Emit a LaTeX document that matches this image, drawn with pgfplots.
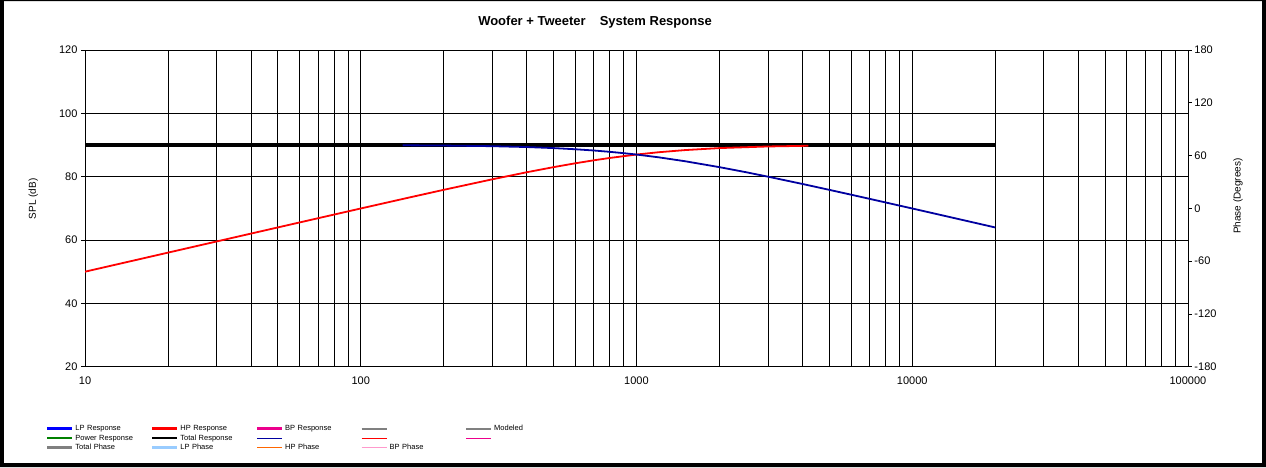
\documentclass[border=0pt]{standalone}
\usepackage{pgfplots}
\pgfplotsset{compat=1.18}
\usepackage{fontspec}
\setmainfont{Liberation Sans}
\definecolor{lpdark}{RGB}{0,0,160}
\definecolor{lpblue}{RGB}{0,0,255}
\definecolor{grayline}{RGB}{128,128,128}
\definecolor{lightblue}{RGB}{153,204,255}
\definecolor{orangeline}{RGB}{255,102,0}
\definecolor{pinkline}{RGB}{255,153,204}
\definecolor{greenline}{RGB}{0,128,0}
\begin{document}
\begin{tikzpicture}
\path[use as bounding box] (-85pt,-100.3pt) rectangle (1181pt,366.7pt);
\fill[black,even odd rule] (-85pt,-100.3pt) rectangle (1181pt,366.7pt)
      (-81pt,-96.3pt) rectangle (1177pt,365.5pt);
\begin{axis}[
  at={(0pt,0pt)}, anchor=south west,
  scale only axis, width=1103pt, height=316.7pt,
  xmode=log, xmin=10, xmax=100000,
  ymin=20, ymax=120, ytick={20,40,...,120},
  xtick={10,100,1000,10000,100000},
  xticklabels={10,100,1000,10000,100000},
  xmajorgrids, xminorgrids, ymajorgrids,
  major grid style={black, line width=0.8pt},
  minor grid style={black, line width=0.8pt},
  axis line style={black, line width=0.8pt},
  axis y line*=left, axis x line*=bottom,
  tick align=outside, major tick length=4pt, minor tick length=0pt,
  xtick style={draw=none},
  ytick style={black, line width=0.8pt},
  tick label style={font=\fontsize{11}{13}\selectfont},
  /pgf/number format/assume math mode=true,
  xticklabel style={yshift=-3pt},
  ylabel={SPL (dB)},
  every axis y label/.style={at={(axis description cs:-0.047,0.53)},rotate=90,anchor=center,font=\fontsize{10}{12}\selectfont},
  title={\textbf{Woofer + Tweeter\hspace{14pt}System Response}},
  title style={at={(axis description cs:0.4624,1.069)},anchor=center,font=\fontsize{13}{15}\selectfont},
  legend columns=5,
  legend style={draw=none, fill=none, at={(axis description cs:-0.0355,-0.179)}, anchor=north west,
    font=\fontsize{7.5}{8.5}\selectfont, row sep=-0.5pt, inner sep=0pt,
    nodes={text width=73.5pt, align=left, inner xsep=2pt, inner ysep=1pt, text height=6pt, text depth=2pt}},
  legend image code/.code={\draw[#1,mark repeat=2,mark phase=2] plot coordinates {(0pt,0pt) (12.5pt,0pt) (25pt,0pt)};},
]
% Total response
\addplot[black, line width=3.2pt, forget plot] coordinates {(10,90) (20000,90)};
% HP response
\addplot[red, line width=1.8pt, forget plot] coordinates {
(10,50.00) (15,53.52) (20,56.02) (30,59.54) (50,63.97) (70,66.88) (100,69.96)
(150,73.43) (200,75.85) (300,79.17) (400,81.40) (500,83.01) (600,84.23)
(700,85.17) (800,85.91) (1000,86.99) (1200,87.71) (1500,88.40) (2000,89.03)
(3000,89.54) (4200,89.76)};
% LP response
\addplot[lpdark, line width=1.8pt, forget plot] coordinates {
(142,89.91) (200,89.83) (300,89.63) (400,89.36) (500,89.03) (600,88.66)
(700,88.27) (800,87.85) (900,87.42) (1000,86.99) (1200,86.13) (1500,84.88)
(2000,83.01) (2500,81.40) (3000,80.00) (4000,77.70) (5000,75.85) (6000,74.32)
(7000,73.01) (8000,71.87) (10000,69.96) (12000,68.39) (15000,66.46) (20000,63.97)};
% legend
\addlegendimage{lpblue, line width=2.4pt, mark=|, mark size=1.5pt, mark options={line width=0.8pt}}
\addlegendentry{LP Response}
\addlegendimage{red, line width=2.4pt}
\addlegendentry{HP Response}
\addlegendimage{magenta, line width=2.4pt}
\addlegendentry{BP Response}
\addlegendimage{grayline, line width=2pt}
\addlegendentry{}
\addlegendimage{grayline, line width=2pt}
\addlegendentry{Modeled}
\addlegendimage{greenline, line width=2.4pt}
\addlegendentry{Power Response}
\addlegendimage{black, line width=2.4pt}
\addlegendentry{Total Response}
\addlegendimage{lpdark, line width=1pt}
\addlegendentry{}
\addlegendimage{red, line width=1pt}
\addlegendentry{}
\addlegendimage{magenta, line width=1pt}
\addlegendentry{}
\addlegendimage{grayline, line width=2.4pt}
\addlegendentry{Total Phase}
\addlegendimage{lightblue, line width=2.4pt}
\addlegendentry{LP Phase}
\addlegendimage{orangeline, line width=1.4pt}
\addlegendentry{HP Phase}
\addlegendimage{pinkline, line width=1pt}
\addlegendentry{BP Phase}
\end{axis}
\begin{axis}[
  at={(0pt,0pt)}, anchor=south west,
  scale only axis, width=1103pt, height=316.7pt,
  xmode=log, xmin=10, xmax=100000,
  axis x line=none, axis y line*=right,
  ymin=-180, ymax=180, ytick={-180,-120,...,180},
  axis line style={black, line width=0.8pt},
  tick align=outside, major tick length=4pt,
  ytick style={black, line width=0.8pt},
  tick label style={font=\fontsize{11}{13}\selectfont},
  /pgf/number format/assume math mode=true,
  yticklabel style={anchor=west, xshift=-1pt},
  ylabel={Phase (Degrees)},
  every axis y label/.style={at={(axis description cs:1.0453,0.539)},rotate=90,anchor=center,font=\fontsize{10}{12}\selectfont},
]
\addplot[draw=none, forget plot] coordinates {(10,0) (100000,0)};
\end{axis}
\end{tikzpicture}
\end{document}
